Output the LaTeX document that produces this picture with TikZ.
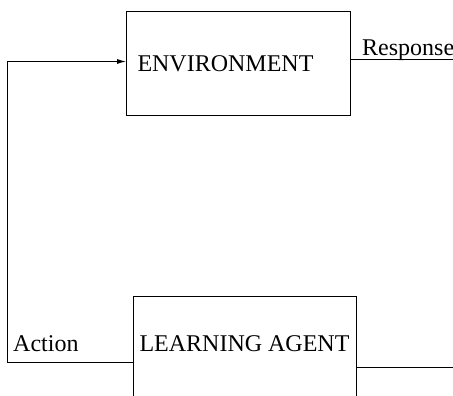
\documentclass[tikz,border=0pt]{standalone}
\usepackage{fontspec}
\setmainfont{Liberation Serif}
\usetikzlibrary{arrows.meta,positioning,calc}

\begin{document}
\begin{tikzpicture}[
    x=1pt, y=1pt,
    font=\fontsize{24}{28}\selectfont,
    box/.style={draw, line width=1pt, minimum height=104pt, inner sep=0pt},
    line/.style={line width=1pt},
    arrow/.style={line width=1pt, -{Latex[length=9pt, width=5pt]}}
  ]
    \useasboundingbox (0,0) rectangle (453,396);
    \clip (0,0) rectangle (453,396);

    \node[box, minimum width=223.5pt, text width=201.5pt, align=left, inner xsep=11pt] (env) at (238.25,332) {ENVIRONMENT};
    \node[box, minimum width=223pt, text depth=10pt] (agent) at (244.5,47) {LEARNING AGENT};

    \coordinate (resp) at (453,336);
    \coordinate (out) at (453,28.5);
    \coordinate (corner) at (7,33);

    \node[anchor=base west, inner sep=0pt] (resplabel) at (362,340.3) {Response};
    \node[anchor=base west, inner sep=0pt] (actlabel) at (13,44.3) {Action};

    \draw[line] ([yshift=4pt]env.east) -- (resp);
    \draw[line] ([yshift=-18.5pt]agent.east) -- (out);
    \draw[arrow] ([yshift=-14pt]agent.west) -- (corner) |- ([yshift=2.5pt]env.west);
  \end{tikzpicture}
\end{document}
